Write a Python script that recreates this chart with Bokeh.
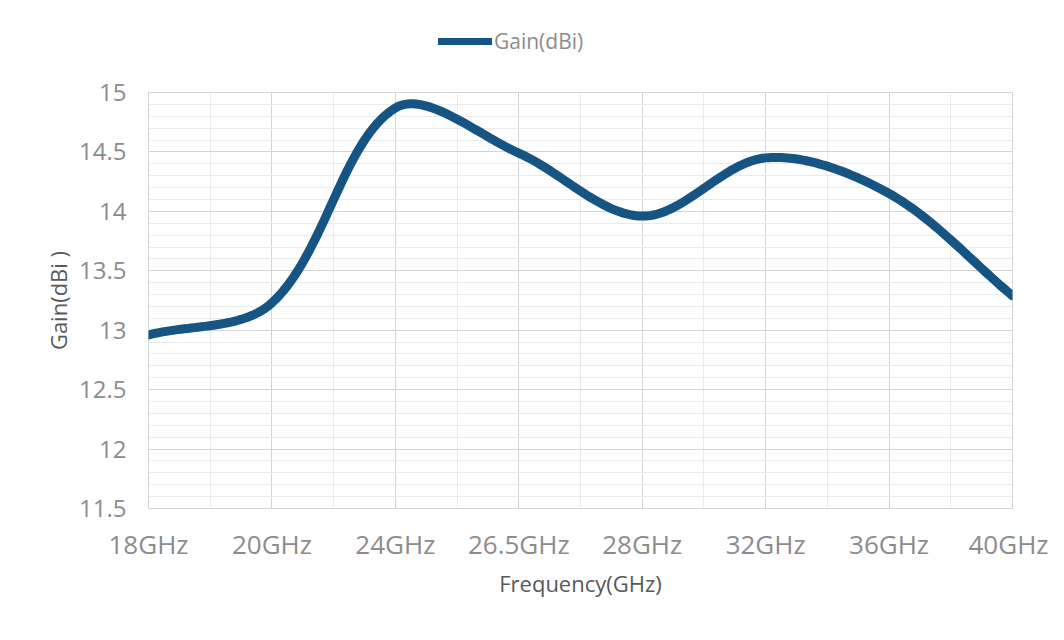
import numpy as np
from bokeh.plotting import figure
from bokeh.layouts import column
from bokeh.models import FixedTicker, Legend, LegendItem, ColumnDataSource
from bokeh.embed import file_html
from bokeh.resources import INLINE

# ---- data ----
categories = ["18GHz", "20GHz", "24GHz", "26.5GHz", "28GHz", "32GHz", "36GHz", "40GHz"]
gain_dbi = [12.96, 13.23, 14.87, 14.49, 13.96, 14.45, 14.15, 13.29]
y_ticks = [11.5, 12, 12.5, 13, 13.5, 14, 14.5, 15]
series_name = "Gain(dBi)"

FONT = "Open Sans"
LINE_COLOR = "#155483"

FRAME_W, FRAME_H = 864, 416
Y_LO, Y_HI = 11.5, 15.0
LEG_H = 70

x = np.arange(len(categories), dtype=float)
y = np.array(gain_dbi, dtype=float)

# Excel-like smoothed line: chord-length weighted Catmull-Rom -> cubic Bezier
def smooth(xs, ys, n=40):
    kx = FRAME_W / (len(xs) - 1)
    ky = FRAME_H / (Y_HI - Y_LO)
    P = np.column_stack([xs, ys])
    S = np.column_stack([xs * kx, ys * ky])
    N = len(P)
    ox, oy = [], []
    def d(a, b):
        return float(np.hypot(*(S[b] - S[a])))
    for i in range(N - 1):
        p1, p2 = P[i], P[i + 1]
        d12 = d(i, i + 1)
        if i == 0:
            c1 = p1 + (p2 - p1) / 3.0
        else:
            d01 = d(i - 1, i)
            c1 = p1 + (P[i + 1] - P[i - 1]) * d12 / (3.0 * (d01 + d12))
        if i == N - 2:
            c2 = p2 - (p2 - p1) / 3.0
        else:
            d23 = d(i + 1, i + 2)
            c2 = p2 - (P[i + 2] - P[i]) * d12 / (3.0 * (d12 + d23))
        t = np.linspace(0, 1, n, endpoint=(i == N - 2))[:, None]
        b = (1 - t) ** 3 * p1 + 3 * (1 - t) ** 2 * t * c1 + 3 * (1 - t) * t ** 2 * c2 + t ** 3 * p2
        ox.extend(b[:, 0]); oy.extend(b[:, 1])
    return ox, oy

sx, sy = smooth(x, y)
src = ColumnDataSource(dict(x=sx, y=sy))

# ---------- legend strip (top) ----------
lf = figure(width=1048, height=LEG_H, output_backend="svg", toolbar_location=None,
            x_axis_type=None, y_axis_type=None, x_range=(0, 1), y_range=(0, 1),
            min_border=0, min_border_left=0, min_border_right=0, min_border_top=0, min_border_bottom=0,
            background_fill_color="white", border_fill_color="white", outline_line_color=None)
lf.xgrid.visible = False
lf.ygrid.visible = False
# legend-key renderer: same style as the series, its data kept outside the strip's visible range
lr = lf.line(x=[5, 6], y=[5, 5], line_color=LINE_COLOR, line_width=7, line_cap="round")
legend = Legend(items=[LegendItem(label=series_name, renderers=[lr])],
                location=(290, 14), orientation="horizontal",
                background_fill_alpha=0, border_line_color=None,
                label_text_font=FONT, label_text_font_size="21px", label_text_color="#8c8c8c",
                glyph_width=54, glyph_height=30, label_height=30,
                label_standoff=2, padding=0, margin=0)
lf.add_layout(legend, "center")

# ---------- main chart ----------
p = figure(width=1048, height=624 - LEG_H, output_backend="svg", toolbar_location=None,
           x_range=(0, len(categories) - 1), y_range=(Y_LO, Y_HI),
           min_border_left=148, min_border_right=36, min_border_top=92 - LEG_H, min_border_bottom=116,
           background_fill_color="white", border_fill_color="white")

p.line("x", "y", source=src, line_color=LINE_COLOR, line_width=9, line_cap="round", line_join="round")

p.xaxis.ticker = FixedTicker(ticks=list(range(len(categories))),
                             minor_ticks=[i + 0.5 for i in range(len(categories) - 1)])
p.xaxis.major_label_overrides = {i: c for i, c in enumerate(categories)}
minor_y = [round(11.5 + 0.1 * k, 2) for k in range(36)]
p.yaxis.ticker = FixedTicker(ticks=y_ticks, minor_ticks=minor_y)
p.yaxis.major_label_overrides = {v: (str(int(v)) if float(v).is_integer() else str(v)) for v in y_ticks}

for ax in (p.xaxis[0], p.yaxis[0]):
    ax.axis_line_color = None
    ax.major_tick_line_color = None
    ax.minor_tick_line_color = None
    ax.major_label_text_font = FONT
    ax.major_label_text_color = "#8c8c8c"
    ax.axis_label_text_font = FONT
    ax.axis_label_text_font_style = "normal"
    ax.axis_label_text_color = "#595959"

p.xaxis.major_label_text_font_size = "26px"
p.yaxis.major_label_text_font_size = "24px"
p.xaxis.axis_label_text_font_size = "22px"
p.yaxis.axis_label_text_font_size = "22px"
p.xaxis.axis_label = "Frequency(GHz)"
p.yaxis.axis_label = "Gain(dBi )"
p.xaxis.major_label_standoff = 11
p.yaxis.major_label_standoff = 16
p.xaxis.axis_label_standoff = 3
p.yaxis.axis_label_standoff = 3

for g in (p.xgrid[0], p.ygrid[0]):
    g.grid_line_color = "#d4d4d4"
    g.grid_line_width = 1
    g.minor_grid_line_color = "#ebebeb"
    g.minor_grid_line_width = 1

p.outline_line_color = "#d4d4d4"

layout = column(lf, p, spacing=0)
open("out.html", "w").write(file_html(layout, INLINE))
